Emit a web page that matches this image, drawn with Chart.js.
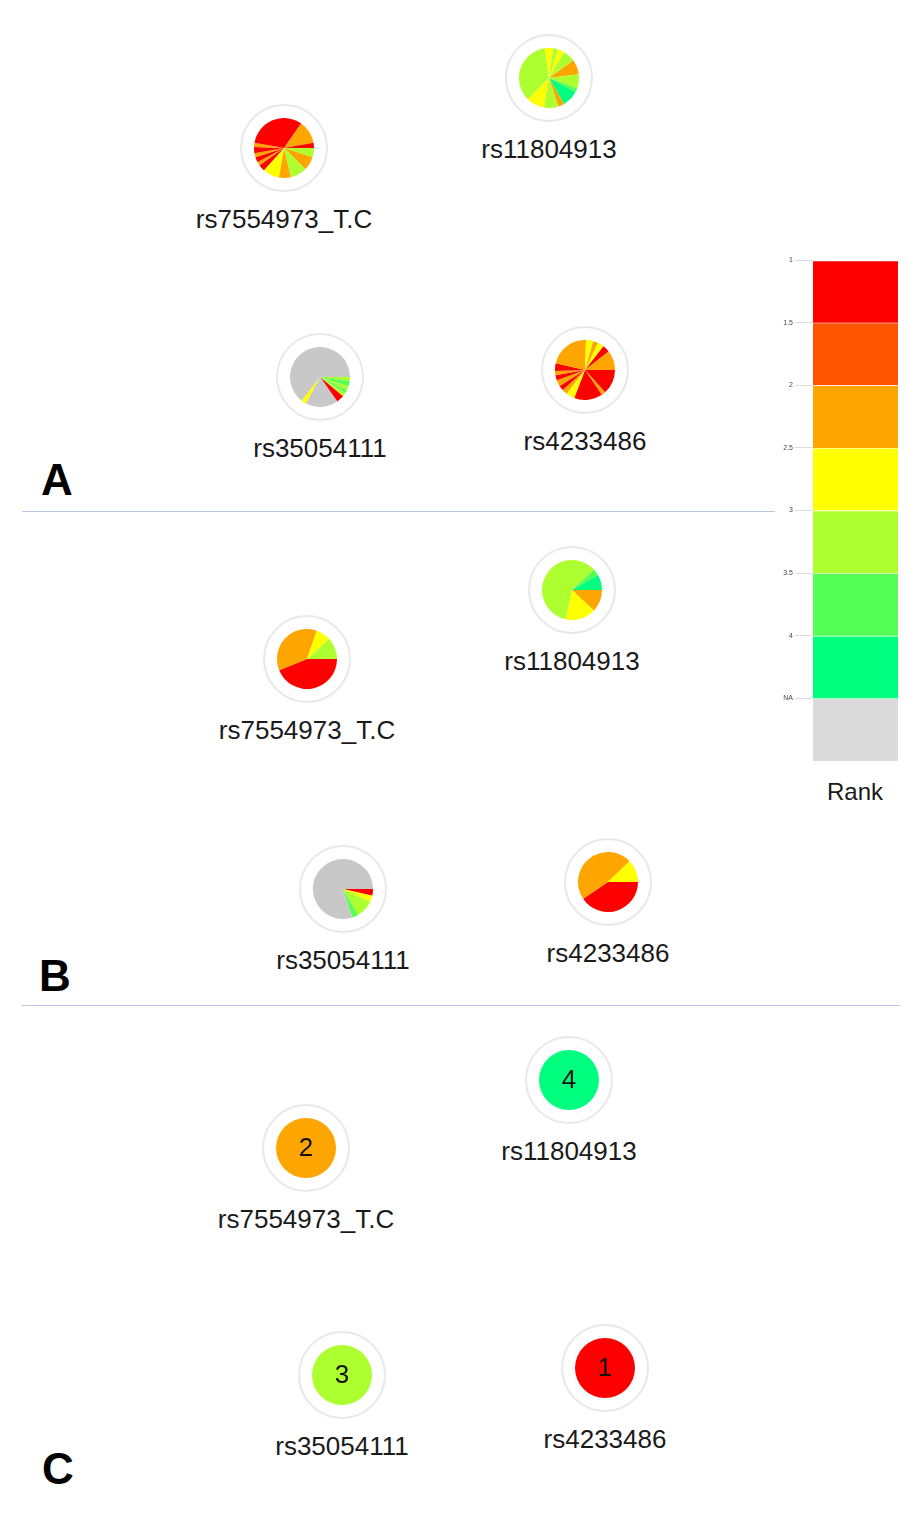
<!DOCTYPE html>
<html>
<head>
<meta charset="utf-8">
<title>SNP rank network</title>
<script src="https://cdn.jsdelivr.net/npm/chart.js"></script>
<style>
  body { margin: 0; background: #fff; font-family: "Liberation Sans", Arial, sans-serif; }
  #page { position: relative; width: 921px; height: 1518px; overflow: hidden; }
  .ring { position: absolute; width: 88px; height: 88px; box-sizing: border-box;
          border: 2px solid #e8e8e8; border-radius: 50%; background: #fff; }
  .ring canvas { position: absolute; left: 12px; top: 12px; }
  .name { position: absolute; width: 300px; text-align: center; font-size: 26px;
          line-height: 26px; color: #1a1a1a; white-space: nowrap; }
  .panel { position: absolute; font-size: 44px; line-height: 44px; font-weight: bold; color: #000; }
  .divider { position: absolute; height: 1px; background: #b7c6e4; }
  #rankScale { position: absolute; left: 773px; top: 250px; }
  #rankTitle { position: absolute; left: 805px; top: 780px; width: 100px; text-align: center;
               font-size: 24px; line-height: 24px; color: #1a1a1a; }
</style>
</head>
<body>
<div id="page">
  <div class="panel" style="left:41px;top:458px">A</div>
  <div class="panel" style="left:39px;top:954px">B</div>
  <div class="panel" style="left:42px;top:1447px">C</div>
  <div class="divider" style="left:22px;top:511px;width:753px"></div>
  <div class="divider" style="left:22px;top:1005px;width:878px"></div>
  <canvas id="rankScale" width="125" height="520"></canvas>
  <div id="rankTitle">Rank</div>
</div>
<script>
// node names, same order in every panel
const snps = ['rs7554973_T.C', 'rs11804913', 'rs35054111', 'rs4233486'];
// rank scale
const rankLabels = ['1', '1.5', '2', '2.5', '3', '3.5', '4', 'NA'];

// panel A: rank of every slice and its share, clockwise from 3 o'clock
const panelARanks = [
  [3, 2, 3, 2, 2.5, 1, 2, 1, 2, 1, 2, 1, 2, 1],
  [3, 3.5, 4, 2, 3, 2.5, 3, 2.5, 3, 2.5, 3, 2, 3],
  [3, 3.5, 3, 3.5, 3, 1, 'NA', 2.5, 'NA'],
  [1, 2, 1, 2.5, 2, 1, 2, 1, 2, 1, 2, 2.5, 2, 2.5, 1, 2]
];
const panelASizes = [
  [18, 27, 32, 23, 32, 13, 7, 10, 8, 12, 8, 115, 45, 10],
  [20, 8, 32, 12, 28, 35, 127, 16, 10, 12, 24, 29, 7],
  [8, 10, 8, 6, 8, 15, 63, 10, 232],
  [48, 8, 55, 17, 10, 10, 12, 10, 8, 15, 79, 14, 10, 12, 14, 38]
];

// panel B
const panelBRanks = [
  [1, 2, 2.5, 3],
  [2, 2.5, 3, 3.5, 4],
  [1, 2.5, 3, 3.5, 'NA'],
  [1, 2, 2.5]
];
const panelBSizes = [
  [158, 131, 29, 42],
  [43, 59, 215, 13, 30],
  [13, 12, 35, 12, 288],
  [146, 170, 44]
];

// panel C: final rank per SNP
const panelCRank = [2, 4, 3, 1];

// styling
const rankColor = {
  '1': '#ff0000', '1.5': '#ff5500', '2': '#ffa500', '2.5': '#ffff00',
  '3': '#adff2f', '3.5': '#55ff55', '4': '#00ff7f', 'NA': '#c8c8c8'
};
const legendColor = rankLabels.map(r => r === 'NA' ? '#dadada' : rankColor[r]);

// node centres on the page (layout only)
const nodeCenters = {
  A: [[284, 148], [549, 78], [320, 377], [585, 370]],
  B: [[307, 659], [572, 590], [343, 889], [608, 882]],
  C: [[306, 1148], [569, 1080], [342, 1375], [605, 1368]]
};

const page = document.getElementById('page');

const centerText = {
  id: 'centerText',
  afterDraw(chart, args, opts) {
    if (!opts.text) return;
    const {ctx, chartArea: a} = chart;
    ctx.save();
    ctx.font = '26px "Liberation Sans", Arial, sans-serif';
    ctx.fillStyle = '#111';
    ctx.textAlign = 'center';
    ctx.textBaseline = 'middle';
    ctx.fillText(opts.text, (a.left + a.right) / 2, (a.top + a.bottom) / 2 + 1);
    ctx.restore();
  }
};

function addNode(center, name, ranks, sizes, text) {
  const [cx, cy] = center;
  const ring = document.createElement('div');
  ring.className = 'ring';
  ring.style.left = (cx - 44) + 'px';
  ring.style.top = (cy - 44) + 'px';
  const canvas = document.createElement('canvas');
  canvas.width = 60;
  canvas.height = 60;
  ring.appendChild(canvas);
  page.appendChild(ring);

  const label = document.createElement('div');
  label.className = 'name';
  label.textContent = name;
  label.style.left = (cx - 150) + 'px';
  label.style.top = (cy + 58) + 'px';
  page.appendChild(label);

  new Chart(canvas, {
    type: 'pie',
    data: {
      labels: ranks.map(String),
      datasets: [{
        data: sizes,
        backgroundColor: ranks.map(r => rankColor[String(r)]),
        borderWidth: 0
      }]
    },
    options: {
      responsive: false,
      animation: false,
      rotation: 90,
      layout: {padding: 0},
      plugins: {
        legend: {display: false},
        tooltip: {enabled: false},
        centerText: {text: text}
      }
    },
    plugins: [centerText]
  });
}

snps.forEach((s, i) => addNode(nodeCenters.A[i], s, panelARanks[i], panelASizes[i]));
snps.forEach((s, i) => addNode(nodeCenters.B[i], s, panelBRanks[i], panelBSizes[i]));
snps.forEach((s, i) => addNode(nodeCenters.C[i], s, [panelCRank[i]], [1], String(panelCRank[i])));

// colour scale
new Chart(document.getElementById('rankScale'), {
  type: 'bar',
  data: {
    labels: ['Rank'],
    datasets: rankLabels.map((r, i) => ({
      label: r,
      data: [1],
      backgroundColor: legendColor[i],
      borderColor: '#fff',
      borderWidth: {top: 1, right: 0, bottom: 0, left: 0},
      borderSkipped: false,
      barPercentage: 1,
      categoryPercentage: 1
    }))
  },
  options: {
    responsive: false,
    animation: false,
    layout: {padding: {top: 10, bottom: 9, left: 0, right: 0}},
    plugins: {legend: {display: false}, tooltip: {enabled: false}},
    scales: {
      x: {stacked: true, display: false},
      y: {
        stacked: true,
        min: 0,
        max: 8,
        reverse: true,
        afterFit(scale) { scale.width = 40; },
        border: {display: false},
        grid: {
          drawOnChartArea: false,
          tickLength: 18,
          color: ctx => ctx.tick && ctx.tick.value === 8 ? 'rgba(0,0,0,0)' : '#dcdcdc'
        },
        ticks: {
          stepSize: 1,
          autoSkip: false,
          padding: 2,
          color: '#444',
          font: {size: 7, family: '"Liberation Sans", Arial, sans-serif'},
          callback: v => rankLabels[v] !== undefined ? rankLabels[v] : ''
        }
      }
    }
  }
});
</script>
</body>
</html>
